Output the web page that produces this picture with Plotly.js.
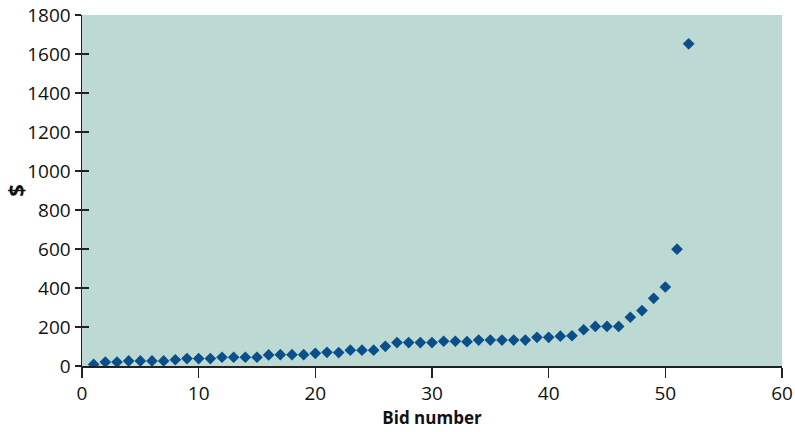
<!DOCTYPE html>
<html>
<head>
<meta charset="utf-8">
<script src="https://cdn.plot.ly/plotly-3.0.1.min.js"></script>
<style>
  html, body { margin: 0; padding: 0; background: #ffffff; }
  #chart { width: 795px; height: 432px; }
</style>
</head>
<body>
<div id="chart"></div>
<script>
// Bids sorted from lowest to highest, in dollars
const bidNumbers = [
  1, 2, 3, 4, 5, 6, 7, 8, 9, 10,
  11, 12, 13, 14, 15, 16, 17, 18, 19, 20,
  21, 22, 23, 24, 25, 26, 27, 28, 29, 30,
  31, 32, 33, 34, 35, 36, 37, 38, 39, 40,
  41, 42, 43, 44, 45, 46, 47, 48, 49, 50,
  51, 52
];
const bidAmounts = [
  8, 20, 20, 26, 26, 26, 26, 32, 38, 38,
  38, 45, 45, 45, 45, 57, 58, 58, 58, 65,
  70, 69, 81, 81, 81, 101, 120, 120, 120, 120,
  127, 127, 125, 133, 133, 133, 133, 133, 147, 147,
  153, 155, 186, 203, 203, 203, 250, 284, 347, 405,
  599, 1652
];
const xTicks = [0, 10, 20, 30, 40, 50, 60];
const yTicks = [0, 200, 400, 600, 800, 1000, 1200, 1400, 1600, 1800];

const font = "'Open Sans', 'DejaVu Sans', sans-serif";
const ink = '#111111';
const axisInk = '#222222';

const traces = [
  {
    type: 'scatter',
    mode: 'markers',
    x: bidNumbers,
    y: bidAmounts,
    marker: { symbol: 'diamond', size: 9, color: '#0b4f8a' },
    hoverinfo: 'x+y'
  },
  {
    // empty trace so the inner tick marks on the overlaid axis get drawn
    type: 'scatter',
    mode: 'markers',
    x: [],
    y: [],
    yaxis: 'y2',
    showlegend: false
  }
];

const layout = {
  width: 795,
  height: 432,
  margin: { l: 82, r: 13, t: 15, b: 66 },
  paper_bgcolor: '#ffffff',
  plot_bgcolor: '#bdd9d3',
  showlegend: false,
  font: { family: font, size: 19, color: ink },
  xaxis: {
    range: [0, 60],
    tickvals: xTicks,
    ticktext: xTicks.map(String),
    ticks: 'outside',
    ticklen: 10,
    tickwidth: 1.5,
    tickcolor: axisInk,
    showline: true,
    linecolor: axisInk,
    linewidth: 1.5,
    showgrid: false,
    zeroline: false,
    tickfont: { family: font, size: 19, color: ink },
    title: {
      text: 'Bid number',
      font: { family: font, size: 17, color: ink, weight: 'bold' },
      standoff: 2
    },
    automargin: false
  },
  yaxis: {
    range: [0, 1800],
    tickvals: yTicks,
    ticktext: yTicks.map(String),
    ticks: 'outside',
    ticklen: 6,
    tickwidth: 1.5,
    tickcolor: axisInk,
    showline: true,
    linecolor: axisInk,
    linewidth: 1.5,
    showgrid: false,
    zeroline: false,
    tickfont: { family: font, size: 19, color: ink },
    title: {
      text: '$',
      font: { family: font, size: 22, color: ink, weight: 'bold' },
      standoff: 6
    },
    automargin: false
  },
  yaxis2: {
    overlaying: 'y',
    anchor: 'x',
    side: 'left',
    range: [0, 1800],
    tickvals: yTicks,
    ticks: 'inside',
    ticklen: 7,
    tickwidth: 1.5,
    tickcolor: axisInk,
    showticklabels: false,
    showline: false,
    showgrid: false,
    zeroline: false
  }
};

Plotly.newPlot('chart', traces, layout, { displayModeBar: false, staticPlot: true });
</script>
</body>
</html>
